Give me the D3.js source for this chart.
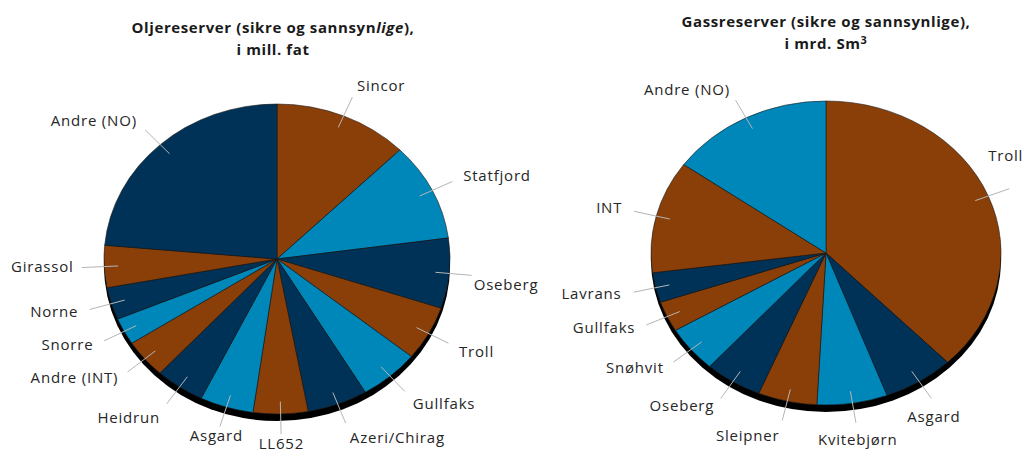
<!DOCTYPE html>
<html>
<head>
<meta charset="utf-8">
<script src="https://cdn.jsdelivr.net/npm/d3@7"></script>
<style>
  body { margin: 0; background: #fff; }
  text { font-family: "Open Sans", sans-serif; }
</style>
</head>
<body>
<div id="chart"></div>
<script>
// oil reserves, mill. fat
var oilNames  = ["Sincor", "Statfjord", "Oseberg", "Troll", "Gullfaks", "Azeri/Chirag", "LL652",
                 "Asgard", "Heidrun", "Andre (INT)", "Snorre", "Norne", "Girassol", "Andre (NO)"];
var oilValues = [453, 369, 263, 205, 203, 203, 184, 180, 166, 145, 101, 121, 158, 849];

// gas reserves, mrd. Sm3
var gasNames  = ["Troll", "Asgard", "Kvitebjørn", "Sleipner", "Oseberg", "Snøhvit", "Gullfaks",
                 "Lavrans", "INT", "Andre (NO)"];
var gasValues = [1360, 236, 234, 196, 191, 177, 117, 114, 431, 544];

var brown = "#8a3f08", navy = "#003257", blue = "#0087ba";
var oilColors = [brown, blue, navy, brown, blue, navy, brown, blue, navy, brown, blue, navy, brown, navy];
var gasColors = [brown, navy, blue, brown, navy, blue, brown, navy, brown, blue];

var W = 1028, H = 453;
var svg = d3.select("#chart").append("svg")
    .attr("width", W)
    .attr("height", H);

function drawPie(opt) {
  var cx = opt.cx, cy = opt.cy, rx = opt.rx, ry = opt.ry;
  var pie = d3.pie().sort(null).value(function(d) { return d; });
  var arcs = pie(opt.values);
  var arc = d3.arc().innerRadius(0).outerRadius(rx);

  // black shadow under the pie
  svg.append("ellipse")
    .attr("cx", cx).attr("cy", cy + 7)
    .attr("rx", rx).attr("ry", ry)
    .attr("fill", "#000");

  var g = svg.append("g")
    .attr("transform", "translate(" + cx + "," + cy + ") scale(1," + (ry / rx) + ")");
  g.selectAll("path")
    .data(arcs)
    .enter().append("path")
      .attr("d", arc)
      .attr("fill", function(d, i) { return opt.colors[i]; })
      .attr("stroke", "#1a1a1a")
      .attr("stroke-width", 0.6)
      .attr("vector-effect", "non-scaling-stroke");

  function pt(a, f) {
    return [cx + f * rx * Math.sin(a), cy - f * ry * Math.cos(a)];
  }

  arcs.forEach(function(d, i) {
    var a = (d.startAngle + d.endAngle) / 2;
    var p0 = pt(a, 0.92), p1 = pt(a, 1.13), pl = pt(a, 1.2);
    svg.append("line")
      .attr("x1", p0[0]).attr("y1", p0[1])
      .attr("x2", p1[0]).attr("y2", p1[1])
      .attr("stroke", "#b5b5b5")
      .attr("stroke-width", 1);
    var s = Math.sin(a);
    var anchor = Math.abs(s) < 0.3 ? "middle" : (s > 0 ? "start" : "end");
    var dx = 0, dy = 0;
    var o = opt.nudge[opt.names[i]];
    if (o) { anchor = o.anchor || anchor; dx = o.dx || 0; dy = o.dy || 0; }
    svg.append("text")
      .attr("x", pl[0] + dx).attr("y", pl[1] + dy)
      .attr("text-anchor", anchor)
      .attr("dominant-baseline", "middle")
      .attr("font-size", 15)
      .attr("letter-spacing", 0.8)
      .attr("fill", "#262626")
      .text(opt.names[i]);
  });
}

drawPie({cx: 277, cy: 259, rx: 173, ry: 155, values: oilValues, names: oilNames,
         colors: oilColors,
         nudge: {"Oseberg": {dx: -10, dy: 10}, "Troll": {dy: 5}, "Gullfaks": {dy: 5},
                 "Azeri/Chirag": {dy: 6}, "Heidrun": {dy: 6}, "Girassol": {dx: 4}}});
drawPie({cx: 826, cy: 253, rx: 175, ry: 152, values: gasValues, names: gasNames,
         colors: gasColors,
         nudge: {"Troll": {anchor: "middle", dx: -15, dy: -28},
                 "Asgard": {anchor: "middle", dx: -4, dy: 11},
                 "Sleipner": {anchor: "end", dy: 6},
                 "Kvitebjørn": {dy: 8}}});

// titles
function title(x, y) {
  return svg.append("text").attr("x", x).attr("y", y)
    .attr("text-anchor", "middle").attr("font-size", 15).attr("font-weight", "bold")
    .attr("letter-spacing", 0.6).attr("fill", "#1a1a1a");
}
var t1 = title(273, 33);
t1.append("tspan").text("Oljereserver (sikre og sannsyn");
t1.append("tspan").attr("font-style", "italic").text("lige");
t1.append("tspan").text("),");
title(273, 55).text("i mill. fat");

title(826, 27).text("Gassreserver (sikre og sannsynlige),");
var t2 = title(826, 49);
t2.append("tspan").text("i mrd. Sm");
t2.append("tspan").attr("font-size", 11).attr("dy", -5).text("3");
</script>
</body>
</html>
